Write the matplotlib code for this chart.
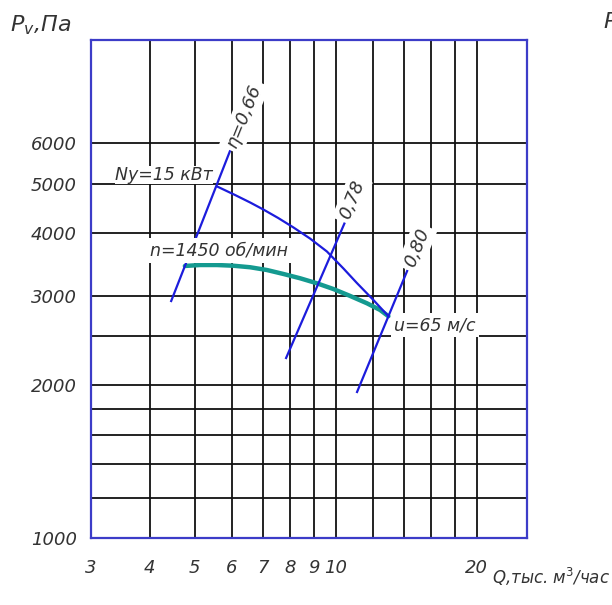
import matplotlib
matplotlib.use("Agg")
import matplotlib.pyplot as plt
from matplotlib.ticker import NullLocator, FixedLocator, FixedFormatter

# Fan characteristic (Q in thousand m3/h, P in Pa)
Q_TICKS = [3, 4, 5, 6, 7, 8, 9, 10, 20]
P_TICKS = [1000, 2000, 3000, 4000, 5000, 6000]
Q_GRID = [4, 5, 6, 7, 8, 9, 10, 12, 14, 16, 18, 20]
P_GRID = [1200, 1400, 1600, 1800, 2000, 2500, 3000, 4000, 5000, 6000]
Q_LIM = (3, 25.6)
P_LIM = (1000, 9600)

# pressure curve, n=1450 rpm
PV_Q = [4.76, 5.13, 5.57, 6.04, 6.56, 7.12, 7.73, 8.39, 9.11, 9.88, 10.73, 11.65, 12.43, 12.95]
PV_P = [3440, 3455, 3455, 3444, 3420, 3378, 3317, 3253, 3180, 3098, 3002, 2904, 2817, 2738]

# power line, Ny=15 kW
N_Q = [5.59, 6.09, 6.56, 7.00, 7.53, 8.12, 8.81, 9.57, 10.38, 11.09, 12.03, 12.95]
N_P = [4931, 4749, 4590, 4446, 4278, 4097, 3896, 3674, 3401, 3184, 2947, 2738]

# efficiency lines
ETA_LABELS = ["η=0,66", "0,78", "0,80"]
ETA_Q = [(4.45, 6.00), (7.83, 10.47), (11.1, 14.2)]
ETA_P = [(2934, 5932), (2265, 4206), (1941, 3363)]
ETA_LABEL_Q = [6.37, 10.84, 14.9]
ETA_LABEL_P = [6797, 4642, 3733]

BLUE = "#1c1cdc"
TEAL = "#149a90"
FRAME = "#3c3cc8"
TXT = "#333333"

plt.rcParams["font.family"] = ["DejaVu Sans"]
plt.rcParams["mathtext.fontset"] = "dejavusans"
plt.rcParams["mathtext.default"] = "it"

fig = plt.figure(figsize=(6.12, 6.05), dpi=100)
ax = fig.add_axes([91 / 612, 67 / 605, 436 / 612, 498 / 605])
ax.set_xscale("log")
ax.set_yscale("log")
ax.set_xlim(*Q_LIM)
ax.set_ylim(*P_LIM)

for q in Q_GRID:
    ax.axvline(q, color="#111111", lw=1.3, zorder=1)
for p in P_GRID:
    ax.axhline(p, color="#111111", lw=1.3, zorder=1)

for s in ax.spines.values():
    s.set_color(FRAME)
    s.set_linewidth(1.6)
    s.set_zorder(5)

ax.xaxis.set_major_locator(FixedLocator(Q_TICKS))
ax.xaxis.set_major_formatter(FixedFormatter([str(q) for q in Q_TICKS]))
ax.yaxis.set_major_locator(FixedLocator(P_TICKS))
ax.yaxis.set_major_formatter(FixedFormatter([str(p) for p in P_TICKS]))
ax.xaxis.set_minor_locator(NullLocator())
ax.yaxis.set_minor_locator(NullLocator())
ax.tick_params(length=0, labelsize=13, labelcolor=TXT)
ax.tick_params(axis="x", pad=15)
ax.tick_params(axis="y", pad=10)
for lab in ax.get_xticklabels() + ax.get_yticklabels():
    lab.set_fontstyle("italic")

# curves
ax.plot(PV_Q, PV_P, color=TEAL, lw=3.2, solid_capstyle="round", zorder=3)
ax.plot(N_Q, N_P, color=BLUE, lw=1.6, zorder=3)
for q, p in zip(ETA_Q, ETA_P):
    ax.plot(q, p, color=BLUE, lw=1.6, zorder=3)

box = dict(boxstyle="square,pad=0.2", fc="white", ec="none")
for lab, q, p in zip(ETA_LABELS, ETA_LABEL_Q, ETA_LABEL_P):
    ax.text(q, p, lab, rotation=68, rotation_mode="anchor", ha="center", va="center",
            fontsize=13, style="italic", color=TXT, bbox=box, zorder=4)

ax.text(4.30, 5000, "Ny=15 кВт", ha="center", va="bottom", fontsize=12.5, style="italic",
        color=TXT, bbox=dict(boxstyle="square,pad=0", fc="white", ec="none"), zorder=4)
ax.text(5.62, 3691, "n=1450 об/мин", ha="center", va="center", fontsize=12.5, style="italic",
        color=TXT, bbox=box, zorder=4)
ax.text(16.3, 2631, "u=65 м/с", ha="center", va="center", fontsize=12.5, style="italic",
        color=TXT, bbox=box, zorder=4)

fig.text(10 / 612, 1 - 25 / 605, r"$P_v$,Па", ha="left", va="center", fontsize=16,
         style="italic", color=TXT)
fig.text(610 / 612, 1 - 577 / 605, r"Q,тыс. м$^3$/час", ha="right", va="center",
         fontsize=12, style="italic", color=TXT)
fig.text(603 / 612, 1 - 22 / 605, "P", ha="left", va="center", fontsize=16,
         style="italic", color=TXT)

fig.savefig("out.png", dpi=100)
